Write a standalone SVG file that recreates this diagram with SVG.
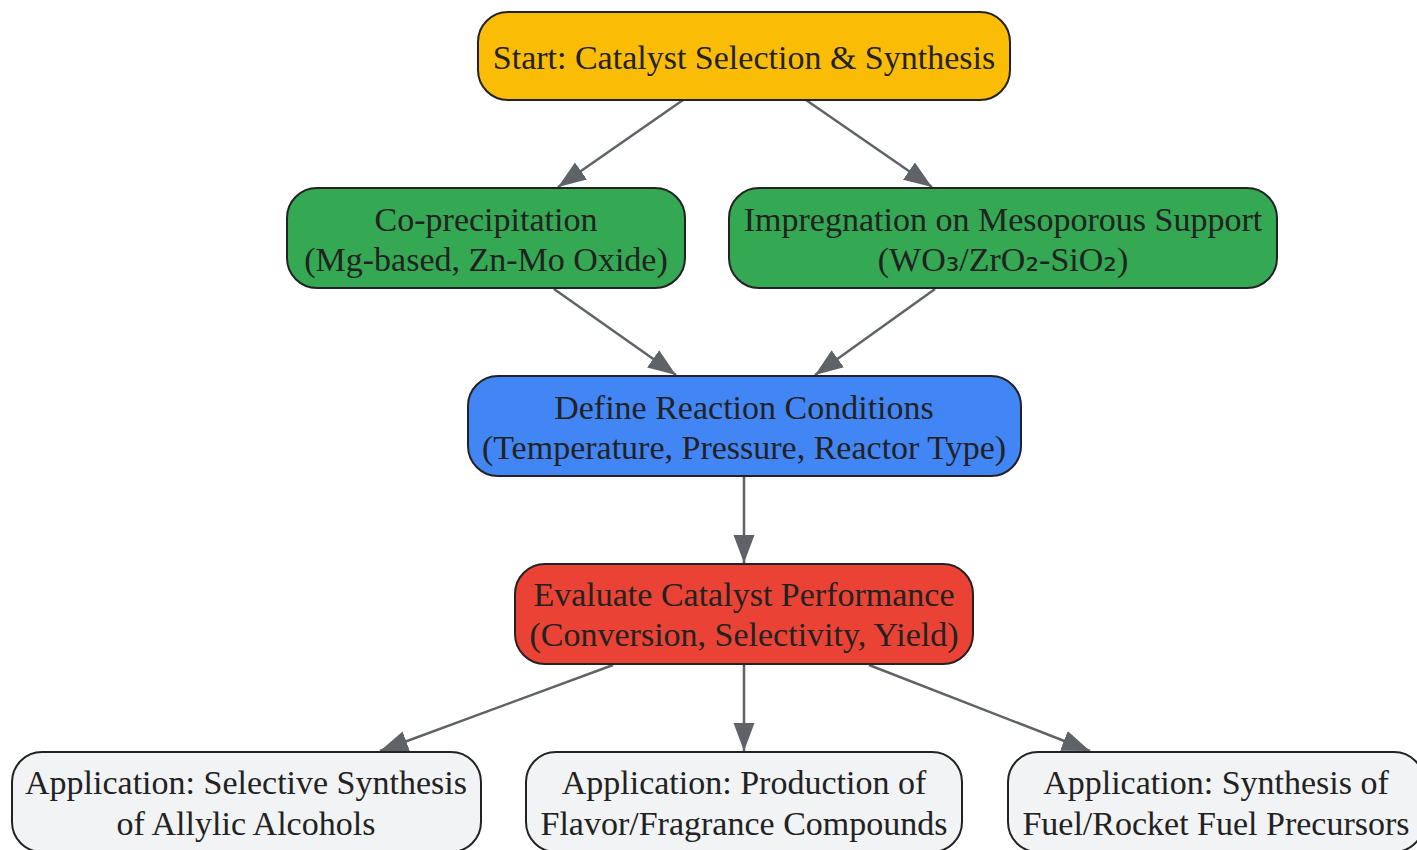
<svg xmlns="http://www.w3.org/2000/svg" width="1417" height="850" viewBox="0 0 1417 850">
<defs>
<marker id="arr" markerUnits="userSpaceOnUse" markerWidth="28" markerHeight="22" viewBox="0 0 28 22" refX="28" refY="11" orient="auto">
<path d="M0,0.5 L28,11 L0,21.5 Z" fill="#5f6368"/>
</marker>
<style>
.node rect{stroke:#222;stroke-width:2}
.node text{font-family:"Liberation Serif","Times New Roman",serif;font-size:34px;fill:#222;text-anchor:middle}
.sub{font-family:"DejaVu Sans",sans-serif}
.edges line{stroke:#5f6368;stroke-width:2.5;marker-end:url(#arr)}
</style>
</defs>
<rect width="1417" height="850" fill="#ffffff"/>
<g class="edges">
<line x1="683" y1="100" x2="558" y2="187"/>
<line x1="806" y1="100" x2="932" y2="187"/>
<line x1="554" y1="289" x2="676" y2="375"/>
<line x1="935" y1="289" x2="815" y2="375"/>
<line x1="744" y1="477" x2="744" y2="563"/>
<line x1="613" y1="665" x2="380" y2="751"/>
<line x1="744" y1="665" x2="744" y2="751"/>
<line x1="869" y1="665" x2="1090" y2="751"/>
</g>
<g id="start" class="node">
<rect x="478" y="12" width="532" height="88" rx="30" fill="#FBBC05"/>
<text x="744" y="69">Start: Catalyst Selection &amp; Synthesis</text>
</g>
<g id="coprecip" class="node">
<rect x="287" y="188" width="398" height="100" rx="30" fill="#34A853"/>
<text x="486" y="231">Co-precipitation</text>
<text x="486" y="271">(Mg-based, Zn-Mo Oxide)</text>
</g>
<g id="impreg" class="node">
<rect x="729" y="188" width="548" height="100" rx="30" fill="#34A853"/>
<text x="1003" y="231">Impregnation on Mesoporous Support</text>
<text x="1003" y="271">(WO<tspan class="sub">₃</tspan>/ZrO<tspan class="sub">₂</tspan>-SiO<tspan class="sub">₂</tspan>)</text>
</g>
<g id="define" class="node">
<rect x="468" y="376" width="553" height="100" rx="30" fill="#4285F4"/>
<text x="744" y="419">Define Reaction Conditions</text>
<text x="744" y="459">(Temperature, Pressure, Reactor Type)</text>
</g>
<g id="evaluate" class="node">
<rect x="515" y="564" width="458" height="100" rx="30" fill="#EA4335"/>
<text x="744" y="606">Evaluate Catalyst Performance</text>
<text x="744" y="646">(Conversion, Selectivity, Yield)</text>
</g>
<g id="app1" class="node">
<rect x="12" y="752" width="469" height="100" rx="30" fill="#F1F3F4"/>
<text x="246" y="794">Application: Selective Synthesis</text>
<text x="246" y="835">of Allylic Alcohols</text>
</g>
<g id="app2" class="node">
<rect x="526" y="752" width="436" height="100" rx="30" fill="#F1F3F4"/>
<text x="744" y="794">Application: Production of</text>
<text x="744" y="835">Flavor/Fragrance Compounds</text>
</g>
<g id="app3" class="node">
<rect x="1008" y="752" width="416" height="100" rx="30" fill="#F1F3F4"/>
<text x="1216" y="794">Application: Synthesis of</text>
<text x="1216" y="835">Fuel/Rocket Fuel Precursors</text>
</g>
</svg>
